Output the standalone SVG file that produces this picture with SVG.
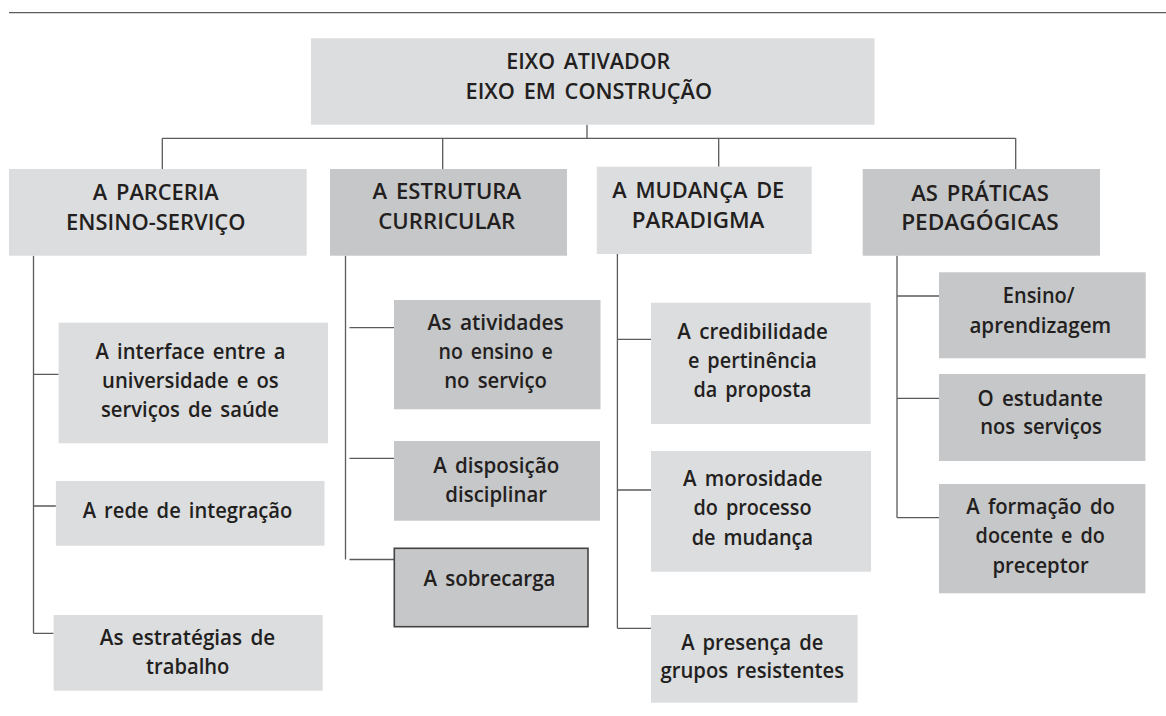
<svg xmlns="http://www.w3.org/2000/svg" width="1166" height="716" viewBox="0 0 1166 716">
<style>
.lt{fill:#dcdddf}
.dk{fill:#c6c7c9}
.bd{stroke:#444;stroke-width:1.6}
.ln{fill:none;stroke:#5b5b5b;stroke-width:1.3}
text{font-family:"Open Sans","Liberation Sans",sans-serif;font-weight:600;font-size:21px;word-spacing:3px;fill:#231f20;text-anchor:middle}
</style>
<rect width="1166" height="716" fill="#ffffff"/>
<path class="ln" d="M9 12.7H1166"/>
<g id="connectors">
<path class="ln" d="M587 124.7V138.3M162.3 138.3H1015.7M162.3 138.3V169M442.7 138.3V169M718.7 138.3V166.7M1015.7 138.3V169"/>
<path class="ln" d="M33.5 255.7V633.3M33.5 374.3H58.6M33.5 506H55.9M33.5 633.3H53.6"/>
<path class="ln" d="M345.5 255.7V559.5M349.5 327.7H394M349.5 458.3H394M349.5 559.5H394"/>
<path class="ln" d="M617.4 254V628.3M617.4 339.3H651M617.4 490H651M617.4 628.3H651"/>
<path class="ln" d="M897 255.7V517.7M897 296H939M897 398.3H939M897 517.7H939"/>
</g>
<g id="eixo">
<rect class="lt" x="311" y="38.3" width="563.5" height="86.4"/>
<text x="588.3" y="69.3" textLength="164" lengthAdjust="spacingAndGlyphs">EIXO ATIVADOR</text>
<text x="588.8" y="99.3" textLength="246.5" lengthAdjust="spacingAndGlyphs">EIXO EM CONSTRUÇÃO</text>
</g>
<g id="parceria">
<rect class="lt" x="9" y="169" width="297.7" height="86.7"/>
<text x="155.8" y="200" textLength="126" lengthAdjust="spacingAndGlyphs">A PARCERIA</text>
<text x="155.8" y="230" textLength="179.5" lengthAdjust="spacingAndGlyphs">ENSINO-SERVIÇO</text>
</g>
<g id="estrutura">
<rect class="dk" x="330" y="169" width="237" height="86.7"/>
<text x="446.8" y="199.3" textLength="148.5" lengthAdjust="spacingAndGlyphs">A ESTRUTURA</text>
<text x="446.8" y="229.3" textLength="137" lengthAdjust="spacingAndGlyphs">CURRICULAR</text>
</g>
<g id="mudanca">
<rect class="lt" x="596.8" y="166.7" width="214.9" height="87.3"/>
<text x="698.3" y="197.7" textLength="172" lengthAdjust="spacingAndGlyphs">A MUDANÇA DE</text>
<text x="698.1" y="227.7" textLength="132.6" lengthAdjust="spacingAndGlyphs">PARADIGMA</text>
</g>
<g id="praticas">
<rect class="dk" x="862.7" y="169" width="237.3" height="86.7"/>
<text x="980" y="201" textLength="137.6" lengthAdjust="spacingAndGlyphs">AS PRÁTICAS</text>
<text x="980" y="230" textLength="157.6" lengthAdjust="spacingAndGlyphs">PEDAGÓGICAS</text>
</g>
<g id="interface">
<rect class="lt" x="58.6" y="322.7" width="269.4" height="120.6"/>
<text x="190.6" y="359" textLength="190" lengthAdjust="spacingAndGlyphs">A interface entre a</text>
<text x="190.4" y="388.3" textLength="176.6" lengthAdjust="spacingAndGlyphs">universidade e os</text>
<text x="190" y="416.7" textLength="178" lengthAdjust="spacingAndGlyphs">serviços de saúde</text>
</g>
<g id="rede">
<rect class="lt" x="55.9" y="481" width="268.6" height="64.7"/>
<text x="187.5" y="517.5" textLength="209.6" lengthAdjust="spacingAndGlyphs">A rede de integração</text>
</g>
<g id="estrategias">
<rect class="lt" x="53.6" y="615" width="269" height="75.7"/>
<text x="187.5" y="645" textLength="175.5" lengthAdjust="spacingAndGlyphs">As estratégias de</text>
<text x="187.7" y="674" textLength="83.3" lengthAdjust="spacingAndGlyphs">trabalho</text>
</g>
<g id="atividades">
<rect class="dk" x="394" y="300" width="206.5" height="109.3"/>
<text x="495.6" y="330" textLength="136.4" lengthAdjust="spacingAndGlyphs">As atividades</text>
<text x="495.6" y="359" textLength="114.2" lengthAdjust="spacingAndGlyphs">no ensino e</text>
<text x="495.6" y="388.3" textLength="102.8" lengthAdjust="spacingAndGlyphs">no serviço</text>
</g>
<g id="disposicao">
<rect class="dk" x="394" y="441" width="206" height="79.7"/>
<text x="496.2" y="472.7" textLength="126.1" lengthAdjust="spacingAndGlyphs">A disposição</text>
<text x="496.2" y="501.7" textLength="101.7" lengthAdjust="spacingAndGlyphs">disciplinar</text>
</g>
<g id="sobrecarga">
<rect class="dk bd" x="394.3" y="548.3" width="193.7" height="78.4"/>
<text x="489.5" y="586" textLength="132" lengthAdjust="spacingAndGlyphs">A sobrecarga</text>
</g>
<g id="credibilidade">
<rect class="lt" x="651" y="302.7" width="219.7" height="121.3"/>
<text x="752.6" y="339.3" textLength="150.5" lengthAdjust="spacingAndGlyphs">A credibilidade</text>
<text x="752.3" y="368.3" textLength="128.8" lengthAdjust="spacingAndGlyphs">e pertinência</text>
<text x="752.5" y="397.3" textLength="118" lengthAdjust="spacingAndGlyphs">da proposta</text>
</g>
<g id="morosidade">
<rect class="lt" x="651" y="451" width="220" height="120.7"/>
<text x="752.8" y="486" textLength="139.7" lengthAdjust="spacingAndGlyphs">A morosidade</text>
<text x="752.5" y="515" textLength="118" lengthAdjust="spacingAndGlyphs">do processo</text>
<text x="752.3" y="545" textLength="121.3" lengthAdjust="spacingAndGlyphs">de mudança</text>
</g>
<g id="presenca">
<rect class="lt" x="651" y="615" width="206.6" height="87.7"/>
<text x="752.3" y="650" textLength="142.3" lengthAdjust="spacingAndGlyphs">A presença de</text>
<text x="752.3" y="678.3" textLength="183.5" lengthAdjust="spacingAndGlyphs">grupos resistentes</text>
</g>
<g id="ensino">
<rect class="dk" x="939" y="272.3" width="206.7" height="86"/>
<text x="1038.7" y="303.3" textLength="71.7" lengthAdjust="spacingAndGlyphs">Ensino/</text>
<text x="1040.3" y="332.7" textLength="141.7" lengthAdjust="spacingAndGlyphs">aprendizagem</text>
</g>
<g id="estudante">
<rect class="dk" x="939" y="374" width="206.4" height="87"/>
<text x="1040.2" y="406" textLength="125.4" lengthAdjust="spacingAndGlyphs">O estudante</text>
<text x="1041" y="434" textLength="121.7" lengthAdjust="spacingAndGlyphs">nos serviços</text>
</g>
<g id="formacao">
<rect class="dk" x="939" y="484" width="206.4" height="109.3"/>
<text x="1040.6" y="514" textLength="148.6" lengthAdjust="spacingAndGlyphs">A formação do</text>
<text x="1040.2" y="543.3" textLength="129.2" lengthAdjust="spacingAndGlyphs">docente e do</text>
<text x="1040.6" y="572.7" textLength="96.3" lengthAdjust="spacingAndGlyphs">preceptor</text>
</g>
</svg>
